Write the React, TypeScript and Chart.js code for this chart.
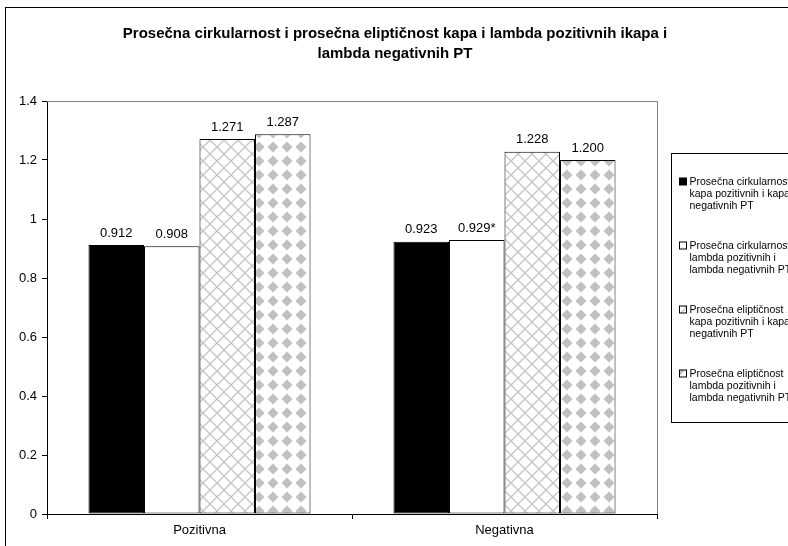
import React, { useEffect, useRef } from "react";
import { Chart, registerables } from "chart.js";

Chart.register(...registerables);

const categories = ["Pozitivna", "Negativna"];
const circKapa = [0.912, 0.923];
const circLambda = [0.908, 0.929];
const elipKapa = [1.271, 1.228];
const elipLambda = [1.287, 1.2];
const circKapaNotes = ["", ""];
const circLambdaNotes = ["", "*"];
const elipKapaNotes = ["", ""];
const elipLambdaNotes = ["", ""];
const legendLines = [
  ["Prosečna cirkularnost", "kapa pozitivnih i kapa", "negativnih PT"],
  ["Prosečna cirkularnost", "lambda pozitivnih i", "lambda negativnih PT"],
  ["Prosečna eliptičnost", "kapa pozitivnih i kapa", "negativnih PT"],
  ["Prosečna eliptičnost", "lambda pozitivnih i", "lambda negativnih PT"],
];
const titleLines = [
  "Prosečna cirkularnost i prosečna eliptičnost kapa i lambda pozitivnih ikapa i",
  "lambda negativnih PT",
];
const Y_MIN = 0;
const Y_MAX = 1.4;
const Y_STEP = 0.2;

const FONT = "'Liberation Sans', Arial, sans-serif";

function makeCross(): CanvasPattern | string {
  const c = document.createElement("canvas");
  c.width = 14;
  c.height = 14;
  const g = c.getContext("2d");
  if (!g) return "#fff";
  g.fillStyle = "#fff";
  g.fillRect(0, 0, 14, 14);
  g.strokeStyle = "#c4c4c4";
  g.lineWidth = 1.3;
  g.beginPath();
  g.moveTo(-1, -1);
  g.lineTo(15, 15);
  g.moveTo(15, -1);
  g.lineTo(-1, 15);
  g.stroke();
  const p = g.createPattern(c, "repeat");
  return p || "#fff";
}

function makeDiamond(): CanvasPattern | string {
  const c = document.createElement("canvas");
  c.width = 14;
  c.height = 14;
  const g = c.getContext("2d");
  if (!g) return "#fff";
  g.fillStyle = "#fff";
  g.fillRect(0, 0, 14, 14);
  g.fillStyle = "#c0c0c0";
  g.beginPath();
  g.moveTo(7, 1.5);
  g.lineTo(12.5, 7);
  g.lineTo(7, 12.5);
  g.lineTo(1.5, 7);
  g.closePath();
  g.fill();
  const p = g.createPattern(c, "repeat");
  return p || "#fff";
}

export default function App() {
  const ref = useRef<HTMLCanvasElement | null>(null);

  useEffect(() => {
    const canvas = ref.current;
    if (!canvas) return;
    const cross = makeCross();
    const diamond = makeDiamond();
    const fills: any[] = ["#000000", "#ffffff", cross, diamond];
    const notes = [circKapaNotes, circLambdaNotes, elipKapaNotes, elipLambdaNotes];

    const decor = {
      id: "decor",
      beforeDraw(chart: any) {
        const ctx = chart.ctx;
        ctx.save();
        ctx.fillStyle = "#fff";
        ctx.fillRect(0, 0, chart.width, chart.height);
        ctx.restore();
      },
      afterDraw(chart: any) {
        const ctx = chart.ctx;
        const a = chart.chartArea;
        ctx.save();
        // outer frame
        ctx.strokeStyle = "#000";
        ctx.lineWidth = 1;
        ctx.strokeRect(5.5, 7.5, chart.width + 20, chart.height + 20);
        // plot area top/right border
        ctx.strokeStyle = "#808080";
        ctx.beginPath();
        ctx.moveTo(a.left, Math.round(a.top) + 0.5);
        ctx.lineTo(Math.round(a.right) + 0.5, Math.round(a.top) + 0.5);
        ctx.lineTo(Math.round(a.right) + 0.5, a.bottom);
        ctx.stroke();
        // title
        ctx.fillStyle = "#000";
        ctx.font = "bold 15px " + FONT;
        ctx.textAlign = "center";
        ctx.textBaseline = "middle";
        titleLines.forEach((t, i) => ctx.fillText(t, 395, 34 + i * 20));
        // legend
        const bx = Math.round(a.right) + 14.5;
        const by = 153.5;
        ctx.strokeStyle = "#000";
        ctx.lineWidth = 1;
        ctx.strokeRect(bx, by, 160, 269);
        ctx.font = "10.5px " + FONT;
        ctx.textAlign = "left";
        legendLines.forEach((lines, i) => {
          const y0 = 182 + i * 64;
          ctx.fillStyle = fills[i];
          ctx.fillRect(bx + 8, y0 - 4, 7, 7);
          ctx.strokeStyle = "#000";
          ctx.strokeRect(bx + 8, y0 - 4, 7, 7);
          ctx.fillStyle = "#000";
          lines.forEach((l, j) => ctx.fillText(l, bx + 18, y0 + j * 12));
        });
        ctx.restore();
      },
      afterDatasetsDraw(chart: any) {
        const ctx = chart.ctx;
        ctx.save();
        ctx.fillStyle = "#000";
        ctx.font = "13px " + FONT;
        ctx.textAlign = "center";
        ctx.textBaseline = "middle";
        chart.data.datasets.forEach((ds: any, di: number) => {
          const meta = chart.getDatasetMeta(di);
          meta.data.forEach((el: any, i: number) => {
            const v = ds.data[i] as number;
            ctx.fillText(v.toFixed(3) + notes[di][i], el.x, el.y - 12);
          });
        });
        ctx.restore();
      },
    };

    const mk = (data: number[], i: number) => ({
      label: legendLines[i].join(" "),
      data,
      backgroundColor: fills[i],
      borderColor: "#000",
      borderWidth: 1,
      borderSkipped: false,
      categoryPercentage: 0.728,
      barPercentage: 1,
    });

    const chart = new Chart(canvas, {
      type: "bar",
      data: {
        labels: categories,
        datasets: [
          mk(circKapa, 0),
          mk(circLambda, 1),
          mk(elipKapa, 2),
          mk(elipLambda, 3),
        ] as any,
      },
      options: {
        responsive: false,
        animation: false,
        devicePixelRatio: 1,
        layout: { padding: { left: 0, top: 101, right: 173, bottom: 16 } },
        plugins: {
          legend: { display: false },
          title: { display: false },
          tooltip: { enabled: false },
        },
        scales: {
          x: {
            grid: {
              offset: true,
              drawOnChartArea: false,
              drawTicks: true,
              tickLength: 5,
              color: "#000",
            },
            border: { color: "#000", width: 1 },
            ticks: {
              color: "#000",
              font: { size: 13, family: FONT },
              padding: 4,
            },
            afterFit: (s: any) => {
              s.height = 30;
            },
          },
          y: {
            min: Y_MIN,
            max: Y_MAX,
            grid: {
              drawOnChartArea: false,
              drawTicks: true,
              tickLength: 5,
              color: "#000",
            },
            border: { color: "#000", width: 1 },
            ticks: {
              stepSize: Y_STEP,
              color: "#000",
              font: { size: 13, family: FONT },
              padding: 5,
              callback: (v: any) => String(Math.round(Number(v) * 10) / 10),
            },
            afterFit: (s: any) => {
              s.width = 47;
            },
          },
        },
      } as any,
      plugins: [decor],
    });
    return () => chart.destroy();
  }, []);

  return (
    <div
      style={{
        position: "absolute",
        left: 0,
        top: 0,
        width: 788,
        height: 546,
        overflow: "hidden",
        background: "#fff",
      }}
    >
      <canvas
        ref={ref}
        width={830}
        height={560}
        style={{ width: 830, height: 560, display: "block" }}
      />
    </div>
  );
}
